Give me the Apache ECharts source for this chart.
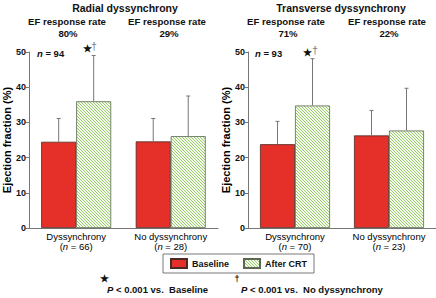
<!DOCTYPE html>
<html>
<head>
<meta charset="utf-8">
<script src="https://cdn.jsdelivr.net/npm/echarts@6/dist/echarts.min.js"></script>
<style>
  html, body { margin: 0; padding: 0; background: #fff; }
  #chart { width: 436px; height: 298px; }
</style>
</head>
<body>
<div id="chart"></div>
<script>
// data
const categories = ['Dyssynchrony', 'No dyssynchrony'];
const yTicks = [0, 10, 20, 30, 40, 50];

const radialN = [66, 28];
const radialRate = ['80%', '29%'];
const radialBaseline = [24.5, 24.6];
const radialBaselineSd = [6.6, 6.5];
const radialAfter = [36.0, 26.1];
const radialAfterSd = [13.0, 11.4];

const transN = [70, 23];
const transRate = ['71%', '22%'];
const transBaseline = [23.8, 26.3];
const transBaselineSd = [6.5, 7.1];
const transAfter = [34.8, 27.7];
const transAfterSd = [13.3, 12.0];

const FONT = 'Liberation Sans, Arial, sans-serif';
const RED = '#e5302a';
const BAR_W = 35;

// small tile for the "\\\" hatch of the After CRT bars
const hatchTile = (() => {
  let c = document.createElement('canvas');
  c.width = 3; c.height = 3;
  let ctx = c.getContext('2d');
  ctx.fillStyle = '#f3f9ec';
  ctx.fillRect(0, 0, 3, 3);
  ctx.fillStyle = '#9ccd6c';
  for (let i = 0; i < 3; i++) ctx.fillRect(i, i, 1, 1);
  return c;
})();

let myChart = echarts.init(document.getElementById('chart'), null, {renderer: 'svg'});

const catLabels = (ns) => categories.map((c, i) => c + '\n({i|n} = ' + ns[i] + ')');

const xAxisOf = (gridIndex, ns) => ({
  type: 'category',
  gridIndex: gridIndex,
  data: catLabels(ns),
  axisLine: {lineStyle: {color: '#777'}},
  axisTick: {length: 3, lineStyle: {color: '#777'}},
  axisLabel: {
    interval: 0,
    color: '#000', fontSize: 9.5, fontFamily: FONT, margin: 3, lineHeight: 10.5,
    rich: {i: {fontStyle: 'italic', fontSize: 9.5, fontFamily: FONT, color: '#000'}}
  }
});

const yAxisOf = (gridIndex) => ({
  type: 'value',
  gridIndex: gridIndex,
  min: yTicks[0], max: yTicks[yTicks.length - 1], interval: 10,
  name: 'Ejection fraction (%)',
  nameLocation: 'middle',
  nameGap: 16,
  nameTextStyle: {fontSize: 11, fontWeight: 'bold', fontFamily: FONT, color: '#000'},
  axisLine: {show: true, lineStyle: {color: '#777'}},
  axisTick: {show: true, length: 3, lineStyle: {color: '#777'}},
  splitLine: {show: false},
  axisLabel: {fontSize: 9, fontWeight: 'bold', fontFamily: FONT, color: '#111', margin: 3}
});

const barPair = (idx, base, after) => [
  {
    name: 'Baseline', type: 'bar', xAxisIndex: idx, yAxisIndex: idx,
    barWidth: BAR_W, barGap: '0%', data: base,
    itemStyle: {color: RED, borderColor: '#4a2a22', borderWidth: 0.8}
  },
  {
    name: 'After CRT', type: 'bar', xAxisIndex: idx, yAxisIndex: idx,
    barWidth: BAR_W, data: after,
    itemStyle: {
      color: {image: hatchTile, repeat: 'repeat'},
      borderColor: '#5c6650', borderWidth: 0.8
    }
  }
];

// one sided error bars: line from mean up to mean + sd with a little cap
const errorBars = (idx, means, sds, dx) => ({
  type: 'custom', xAxisIndex: idx, yAxisIndex: idx, z: 5,
  silent: true,
  data: means.map((m, i) => [i, m, m + sds[i]]),
  renderItem: (params, api) => {
    const lo = api.coord([api.value(0), api.value(1)]);
    const hi = api.coord([api.value(0), api.value(2)]);
    const x = lo[0] + dx;
    return {
      type: 'group',
      children: [
        {type: 'line', shape: {x1: x, y1: lo[1], x2: x, y2: hi[1]}, style: {stroke: '#777', lineWidth: 1}},
        {type: 'line', shape: {x1: x - 2, y1: hi[1], x2: x + 2, y2: hi[1]}, style: {stroke: '#777', lineWidth: 1}}
      ]
    };
  }
});

const txt = (x, y, text, size, weight, fill) => ({
  type: 'text', x: x, y: y,
  style: {text: text, fontSize: size, fontWeight: weight || 'normal', fontFamily: FONT,
          fill: fill || '#111', align: 'center', verticalAlign: 'middle'}
});

const richTxt = (x, y, text, size) => ({
  type: 'text', x: x, y: y,
  style: {
    text: text, fontSize: size, fontWeight: 'bold', fontFamily: FONT, fill: '#111',
    align: 'left', verticalAlign: 'middle',
    rich: {i: {fontStyle: 'italic', fontWeight: 'bold', fontSize: size, fontFamily: FONT}}
  }
});

let option = {
  animation: false,
  grid: [
    {left: 28, top: 52, width: 190, height: 176},
    {left: 248, top: 52, width: 188, height: 176}
  ],
  xAxis: [xAxisOf(0, radialN), xAxisOf(1, transN)],
  yAxis: [yAxisOf(0), yAxisOf(1)],
  legend: {
    data: ['Baseline', 'After CRT'],
    left: 163, top: 254,
    padding: [4, 7], itemGap: 14, itemWidth: 16, itemHeight: 9,
    borderColor: '#555', borderWidth: 0.8,
    selectedMode: false,
    icon: 'rect',
    textStyle: {fontSize: 9, fontWeight: 'bold', fontFamily: FONT, color: '#111'}
  },
  series: [
    ...barPair(0, radialBaseline, radialAfter),
    ...barPair(1, transBaseline, transAfter),
    errorBars(0, radialBaseline, radialBaselineSd, -BAR_W / 2),
    errorBars(0, radialAfter, radialAfterSd, BAR_W / 2),
    errorBars(1, transBaseline, transBaselineSd, -BAR_W / 2),
    errorBars(1, transAfter, transAfterSd, BAR_W / 2)
  ],
  graphic: [
    txt(125, 8, 'Radial dyssynchrony', 10.5, 'bold'),
    txt(67, 21, 'EF response rate', 9.6, 'bold'),
    txt(68, 33, radialRate[0], 9.6, 'bold'),
    txt(167, 21, 'EF response rate', 9.6, 'bold'),
    txt(169, 33, radialRate[1], 9.6, 'bold'),
    txt(341, 8, 'Transverse dyssynchrony', 10.5, 'bold'),
    txt(286, 21, 'EF response rate', 9.6, 'bold'),
    txt(288, 33, transRate[0], 9.6, 'bold'),
    txt(387, 21, 'EF response rate', 9.6, 'bold'),
    txt(389, 33, transRate[1], 9.6, 'bold'),
    richTxt(37, 53, '{i|n} = 94', 9.5),
    richTxt(255, 53, '{i|n} = 93', 9.5),
    txt(87.5, 48, '\u2605', 10, 'bold'),
    txt(94, 46, '\u2020', 10, 'bold', '#888'),
    txt(307.5, 52, '\u2605', 10, 'bold'),
    txt(315, 50, '\u2020', 10, 'bold', '#888'),
    txt(104.5, 278, '\u2605', 10, 'bold'),
    richTxt(107, 289, '{i|P} < 0.001 vs.  Baseline', 9.5),
    txt(237, 279, '\u2020', 9, 'bold'),
    richTxt(241, 289, '{i|P} < 0.001 vs.  No dyssynchrony', 9.5)
  ]
};

myChart.setOption(option);
</script>
</body>
</html>
